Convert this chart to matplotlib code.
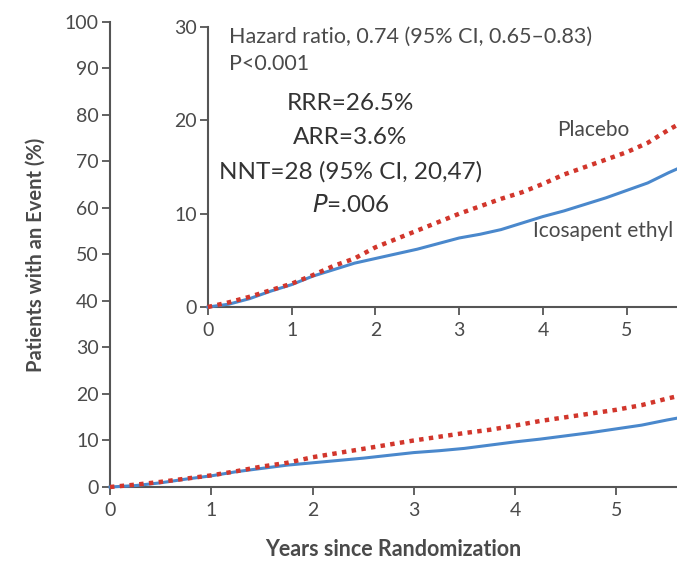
import numpy as np
import matplotlib
matplotlib.use("Agg")
import matplotlib.pyplot as plt

# Kaplan-Meier style cumulative event curves
years = [0, 0.25, 0.5, 0.75, 1, 1.25, 1.5, 1.75, 2, 2.25, 2.5, 2.75, 3,
         3.25, 3.5, 3.75, 4, 4.25, 4.5, 4.75, 5, 5.25, 5.5, 5.6]
placebo = [0, 0.5, 1.1, 1.8, 2.5, 3.4, 4.4, 5.2, 6.4, 7.3, 8.2, 9.1, 10.0,
           10.8, 11.6, 12.3, 13.2, 14.2, 15.0, 15.8, 16.6, 17.6, 19.0, 19.5]
icosapent = [0, 0.3, 0.9, 1.7, 2.4, 3.3, 4.0, 4.7, 5.2, 5.7, 6.2, 6.8, 7.4,
             7.8, 8.3, 9.0, 9.7, 10.3, 11.0, 11.7, 12.5, 13.3, 14.4, 14.8]
xTicks = [0, 1, 2, 3, 4, 5]
mainYTicks = list(range(0, 101, 10))
insetYTicks = [0, 10, 20, 30]

RED = "#d2362c"
BLUE = "#4a88cc"
GREY = "#4a4a4a"
plt.rcParams['font.family'] = ['Lato', 'DejaVu Sans']


def styleAxes(ax, xmax, ymax, yticks, fs):
    ax.set_xlim(0, xmax)
    ax.set_ylim(0, ymax)
    ax.set_xticks(xTicks)
    ax.set_yticks(yticks)
    for side in ["top", "right"]:
        ax.spines[side].set_visible(False)
    for side in ["left", "bottom"]:
        ax.spines[side].set_color("#555555")
        ax.spines[side].set_linewidth(1.5)
    ax.tick_params(axis="both", colors="#555555", labelcolor=GREY,
                   labelsize=fs, length=6, width=1.3, direction="out")
    ax.tick_params(axis="y", pad=2)
    ax.tick_params(axis="x", pad=5)


def drawCurves(ax):
    ax.plot(years, icosapent, color=BLUE, linewidth=2.2, clip_on=False, zorder=3)
    ax.plot(years, placebo, color=RED, linewidth=3.2, linestyle=(0, (1, 1.2)),
            clip_on=False, zorder=4)


fig = plt.figure(figsize=(6.77, 5.63), dpi=100)

# Main axes
ax = fig.add_axes([0.1625, 0.135, 0.8375, 0.826])
drawCurves(ax)
styleAxes(ax, 5.6, 100, mainYTicks, 14)
ax.set_xlabel("Years since Randomization", fontsize=15.5, fontweight="bold",
              color=GREY, labelpad=14)
ax.set_ylabel("Patients with an Event (%)", fontsize=14.5, fontweight="bold",
              color=GREY, labelpad=14)

# Inset axes
axIn = fig.add_axes([0.307, 0.4547, 0.693, 0.497])
axIn.patch.set_facecolor("white")
drawCurves(axIn)
styleAxes(axIn, 5.6, 30, insetYTicks, 14)

axIn.text(0.25, 29.0, "Hazard ratio, 0.74 (95% CI, 0.65\u20130.83)", fontsize=15.5,
          color=GREY, va="center", ha="left")
axIn.text(0.25, 26.1, "P<0.001", fontsize=15.5, color=GREY, va="center", ha="left")
axIn.text(1.7, 21.8, "RRR=26.5%", fontsize=17.5, color="#333333", ha="center", va="center")
axIn.text(1.7, 18.2, "ARR=3.6%", fontsize=17.5, color="#333333", ha="center", va="center")
axIn.text(1.7, 14.5, "NNT=28 (95% CI, 20,47)", fontsize=17.5, color="#333333",
          ha="center", va="center")
axIn.text(1.7, 10.9, r"$\it{P}$=.006", fontsize=17.5, color="#333333",
          ha="center", va="center")
axIn.text(4.6, 19.0, "Placebo", fontsize=15, color=GREY, ha="center", va="center")
axIn.text(3.88, 8.1, "Icosapent ethyl", fontsize=15, color=GREY, ha="left", va="center")

fig.savefig("out.png", dpi=100)
